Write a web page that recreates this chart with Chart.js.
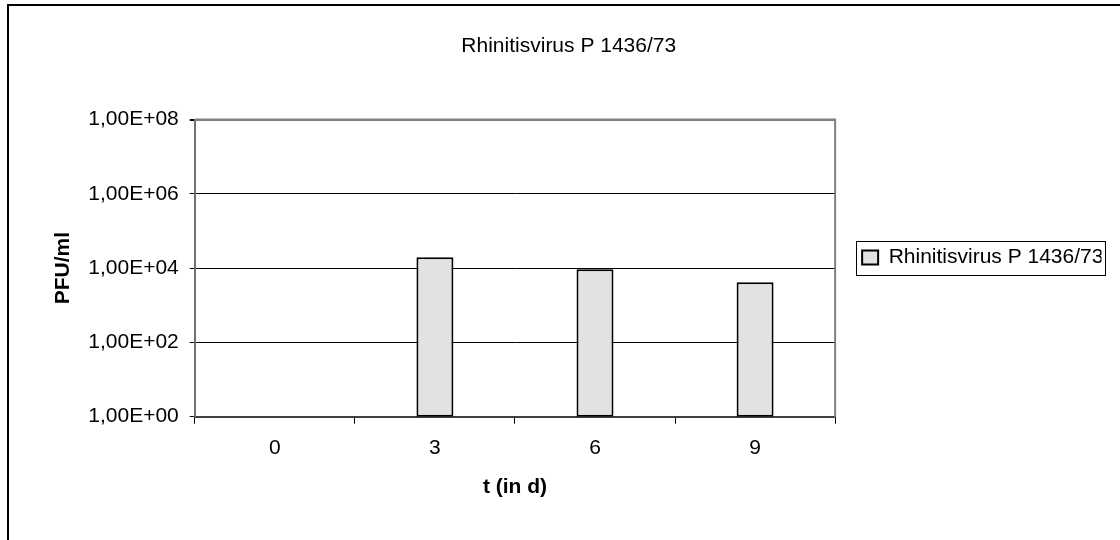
<!DOCTYPE html>
<html lang="de">
<head>
    <meta charset="UTF-8">
    <title>Rhinitisvirus P 1436/73</title>
    <script src="https://cdn.jsdelivr.net/npm/chart.js"></script>
    <style>
        html, body {
            margin: 0;
            padding: 0;
            background: #fff;
            overflow: hidden;
        }
        .wrap {
            position: relative;
            width: 1120px;
            height: 540px;
        }
        #virusChart {
            position: absolute;
            left: 0;
            top: 0;
        }
        .frame {
            position: absolute;
            left: 7px;
            top: 4px;
            width: 1200px;
            height: 600px;
            border: 2px solid #000;
            pointer-events: none;
        }
    </style>
</head>
<body>
    <div class="wrap">
        <canvas id="virusChart" width="1120" height="540"></canvas>
        <div class="frame"></div>
    </div>

    <script>
        const chartTitle = 'Rhinitisvirus P 1436/73';
        const days = ['0', '3', '6', '9'];
        const pfuValues = [null, 19500, 9300, 4150];
        const yTickValues = [1, 1e2, 1e4, 1e6, 1e8];
        const yTickLabels = ['1,00E+00', '1,00E+02', '1,00E+04', '1,00E+06', '1,00E+08'];

        Chart.defaults.font.family = "'Liberation Sans', Arial, sans-serif";
        Chart.defaults.color = '#000';

        // gray frame around the plot area (top + right)
        const plotFrame = {
            id: 'plotFrame',
            beforeDatasetsDraw(chart) {
                const a = chart.chartArea;
                const ctx = chart.ctx;
                ctx.save();
                ctx.strokeStyle = '#808080';
                ctx.lineWidth = 2;
                ctx.beginPath();
                ctx.moveTo(a.left, a.top);
                ctx.lineTo(a.right, a.top);
                ctx.lineTo(a.right, a.bottom);
                ctx.stroke();
                ctx.restore();
            }
        };

        // box around the legend entry
        const legendBox = {
            id: 'legendBox',
            afterDraw(chart) {
                const hb = chart.legend && chart.legend.legendHitBoxes && chart.legend.legendHitBoxes[0];
                if (!hb) return;
                const ctx = chart.ctx;
                const cy = hb.top + hb.height / 2;
                ctx.save();
                ctx.strokeStyle = '#000';
                ctx.lineWidth = 1;
                ctx.strokeRect(Math.round(hb.left - 6) + 0.5, Math.round(cy - 17) + 0.5,
                    Math.round(hb.width + 8), 34);
                ctx.restore();
            }
        };

        new Chart(document.getElementById('virusChart'), {
            type: 'bar',
            data: {
                labels: days,
                datasets: [{
                    label: chartTitle,
                    data: pfuValues,
                    backgroundColor: '#e2e2e2',
                    borderColor: '#000',
                    borderWidth: 2,
                    borderSkipped: false,
                    barPercentage: 0.231,
                    categoryPercentage: 1.0
                }]
            },
            options: {
                responsive: false,
                animation: false,
                layout: {
                    padding: { left: 36, right: 18.5, top: 0, bottom: 25 }
                },
                plugins: {
                    title: {
                        display: true,
                        text: chartTitle,
                        font: { size: 21, weight: 'normal' },
                        padding: { top: 33.4, bottom: 60.9 }
                    },
                    legend: {
                        position: 'right',
                        labels: {
                            boxWidth: 16,
                            boxHeight: 14,
                            padding: 27,
                            font: { size: 21 }
                        }
                    },
                    tooltip: { enabled: false }
                },
                scales: {
                    x: {
                        offset: true,
                        grid: {
                            display: true,
                            drawOnChartArea: false,
                            drawTicks: true,
                            tickLength: 7,
                            offset: true,
                            color: '#000'
                        },
                        border: { color: '#404040', width: 2 },
                        ticks: {
                            padding: 11.7,
                            font: { size: 21 }
                        },
                        title: {
                            display: true,
                            text: 't (in d)',
                            font: { size: 21, weight: 'bold' },
                            padding: { top: 2.1, bottom: 15.4 }
                        }
                    },
                    y: {
                        type: 'logarithmic',
                        min: 1,
                        max: 1e8,
                        afterBuildTicks(scale) {
                            scale.ticks = yTickValues.map(v => ({ value: v }));
                        },
                        grid: {
                            color: ctx => (ctx.tick && ctx.tick.value === 1e8) ? '#808080' : '#000',
                            lineWidth: ctx => (ctx.tick && ctx.tick.value === 1e8) ? 2 : 1,
                            tickColor: '#000',
                            tickLength: 5
                        },
                        border: { color: '#707070', width: 2 },
                        ticks: {
                            padding: 11,
                            font: { size: 21 },
                            callback: function(value) {
                                const i = yTickValues.indexOf(value);
                                return i >= 0 ? yTickLabels[i] : '';
                            }
                        },
                        title: {
                            display: true,
                            text: 'PFU/ml',
                            font: { size: 21, weight: 'bold' },
                            padding: { top: 14.4, bottom: 1.7 }
                        }
                    }
                }
            },
            plugins: [plotFrame, legendBox]
        });
    </script>
</body>
</html>
